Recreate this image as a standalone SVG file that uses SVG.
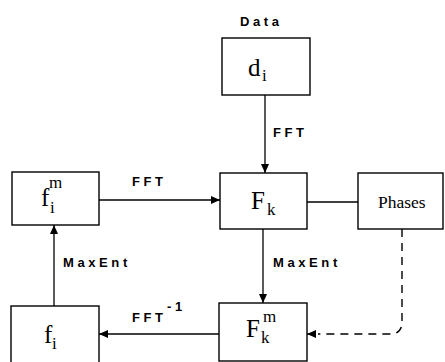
<svg xmlns="http://www.w3.org/2000/svg" width="445" height="362" viewBox="0 0 445 362">
<style>
.box{fill:#fff;stroke:#000;stroke-width:1.4}
.ln{fill:none;stroke:#000;stroke-width:1.3}
.dash{fill:none;stroke:#000;stroke-width:1.4;stroke-dasharray:8 6}
.lbl{font-family:"Liberation Sans",Arial,sans-serif;font-weight:bold;font-size:13px;letter-spacing:3.6px;fill:#000}
.m{font-family:"Liberation Serif","Times New Roman",serif;font-size:25px;fill:#000}
.s{font-family:"Liberation Serif","Times New Roman",serif;font-size:17px;fill:#000}
.ph{font-family:"Liberation Serif","Times New Roman",serif;font-size:17.5px;fill:#000}
</style>
<defs>
<marker id="ah" markerWidth="9" markerHeight="8" refX="9" refY="4" orient="auto" markerUnits="userSpaceOnUse">
<path d="M0,0 L9,4 L0,8 Z" fill="#000"/>
</marker>
</defs>
<rect width="445" height="362" fill="#fff"/>
<g id="connectors">
<line class="ln" x1="265" y1="95" x2="265" y2="173" marker-end="url(#ah)"/>
<line class="ln" x1="99" y1="200" x2="220" y2="200" marker-end="url(#ah)"/>
<line class="ln" x1="307" y1="202" x2="358" y2="202"/>
<line class="ln" x1="263" y1="229" x2="263" y2="303" marker-end="url(#ah)"/>
<line class="ln" x1="54" y1="306" x2="54" y2="225" marker-end="url(#ah)"/>
<line class="ln" x1="219" y1="334" x2="99" y2="334" marker-end="url(#ah)"/>
<path class="dash" d="M402,229 L402,322 Q402,334 390,334 L318,334"/>
<path d="M316,334 L307,334" stroke="#000" stroke-width="1.4" marker-end="url(#ah)"/>
<text class="lbl" x="273" y="137">FFT</text>
<text class="lbl" x="132" y="186">FFT</text>
<text class="lbl" x="273" y="267">MaxEnt</text>
<text class="lbl" x="63" y="267">MaxEnt</text>
<text class="lbl" x="132" y="322">FFT</text>
<text class="lbl" x="167" y="311" letter-spacing="1">-1</text>
</g>
<g id="data">
<text class="lbl" x="240" y="26">Data</text>
<rect class="box" x="222" y="38" width="88" height="57"/>
<text class="m" x="248" y="76">d</text><text class="s" x="262" y="81">i</text>
</g>
<g id="Fk">
<rect class="box" x="220" y="173" width="87" height="56"/>
<text class="m" x="251" y="209">F</text><text class="s" x="267" y="215">k</text>
</g>
<g id="fim">
<rect class="box" x="12" y="172" width="87" height="53"/>
<text class="m" x="41" y="206">f</text><text class="s" x="49" y="188">m</text><text class="s" x="50" y="213">i</text>
</g>
<g id="phases">
<rect class="box" x="358" y="173" width="85" height="56"/>
<text class="ph" x="378" y="208">Phases</text>
</g>
<g id="Fkm">
<rect class="box" x="219" y="303" width="88" height="58"/>
<text class="m" x="246" y="337">F</text><text class="s" x="261" y="343">k</text><text class="s" x="263" y="322">m</text>
</g>
<g id="fi">
<rect class="box" x="11" y="306" width="88" height="60"/>
<text class="m" x="44" y="343">f</text><text class="s" x="52" y="349">i</text>
</g>
</svg>
